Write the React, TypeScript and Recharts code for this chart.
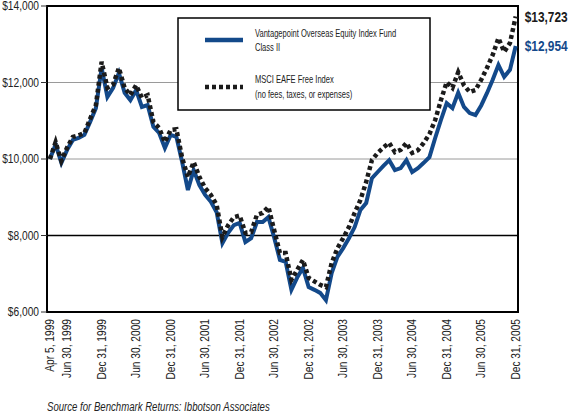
import React from "react";
import {
  LineChart,
  Line,
  XAxis,
  YAxis,
  CartesianGrid,
  ReferenceLine,
  ReferenceArea,
  Legend,
  LabelList,
} from "recharts";

// month index 0 = Apr 5, 1999 ... 81 = Dec 31, 2005
const fundName = "Vantagepoint Overseas Equity Index Fund Class II";
const indexName = "MSCI EAFE Free Index (no fees, taxes, or expenses)";

const fundValues = [
  10000, 10380, 9900, 10240, 10500, 10550, 10630, 10970, 11330, 12380,
  11620, 11860, 12250, 11730, 11540, 11800, 11360, 11410, 10840, 10680,
  10290, 10630, 10580, 9920, 9190, 9710, 9320, 9060, 8880, 8610,
  7800, 8070, 8270, 8330, 7830, 7930, 8350, 8350, 8480, 7950,
  7360, 7310, 6580, 6900, 7150, 6650, 6580, 6500, 6310, 7020,
  7440, 7670, 7930, 8220, 8670, 8850, 9500, 9660, 9820, 9970,
  9710, 9760, 9970, 9660, 9760, 9900, 10050, 10550, 11020, 11460,
  11330, 11730, 11360, 11200, 11150, 11400, 11720, 12070, 12460, 12150,
  12330, 12954,
];

const indexValues = [
  10000, 10440, 9950, 10300, 10580, 10620, 10680, 11050, 11410, 12540,
  11860, 11950, 12380, 11860, 11670, 11930, 11600, 11670, 10970, 10810,
  10440, 10760, 10780, 10030, 9530, 9920, 9530, 9240, 9060, 8800,
  7960, 8270, 8480, 8520, 8070, 8090, 8540, 8590, 8750, 8140,
  7540, 7540, 6840, 7100, 7360, 6890, 6800, 6710, 6650, 7280,
  7670, 7930, 8220, 8590, 8930, 9400, 9970, 10160, 10300, 10420,
  10180, 10240, 10420, 10160, 10230, 10420, 10650, 11020, 11540, 12010,
  11860, 12270, 11930, 11750, 11800, 12070, 12380, 12720, 13160, 12800,
  13030, 13723,
];

const tickMonths = [0, 3, 9, 15, 21, 27, 33, 39, 45, 51, 57, 63, 69, 75, 81];
const tickLabels = [
  "Apr 5, 1999",
  "Jun 30, 1999",
  "Dec 31, 1999",
  "Jun 30, 2000",
  "Dec 31, 2000",
  "Jun 30, 2001",
  "Dec 31, 2001",
  "Jun 30, 2002",
  "Dec 31, 2002",
  "Jun 30, 2003",
  "Dec 31, 2003",
  "Jun 30, 2004",
  "Dec 31, 2004",
  "Jun 30, 2005",
  "Dec 31, 2005",
];
const yTicks = [6000, 8000, 10000, 12000, 14000];

const data = fundValues.map((v, i) => ({
  m: i,
  fund: v,
  index: indexValues[i],
}));

// no condensed face installed, so Liberation Sans gets squeezed horizontally
const FONT = "'Liberation Sans', Arial, sans-serif";
const BLUE = "#13498a";
const DARK = "#1b1b1b";
const INK = "#222";

const money = (v: number) => "$" + v.toLocaleString("en-US");

function Narrow({ x, y, rotate = 0, sx = 0.85, children, ...rest }: any) {
  return (
    <g transform={`translate(${x},${y}) rotate(${rotate}) scale(${sx},1)`}>
      <text x={0} y={0} fontFamily={FONT} {...rest}>
        {children}
      </text>
    </g>
  );
}

function XTick({ x, y, payload }: any) {
  const label = tickLabels[tickMonths.indexOf(payload.value)];
  return (
    <Narrow x={x} y={y + 5} rotate={-90} textAnchor="end" dy="0.35em" fontSize={12} fill={INK}>
      {label}
    </Narrow>
  );
}

function YTick({ x, y, payload }: any) {
  return (
    <Narrow x={x} y={y} textAnchor="end" dy="0.35em" fontSize={12} fill={INK}>
      {money(payload.value)}
    </Narrow>
  );
}

function endLabel(color: string, last: number) {
  return (props: any) => {
    if (props.index !== last) return null;
    return (
      <Narrow
        x={props.x + 9}
        y={props.y}
        dy="0.35em"
        fontSize={14}
        fontWeight="bold"
        fill={color}
      >
        {money(props.value)}
      </Narrow>
    );
  };
}

function LegendBox() {
  const t = { fontSize: 10.5, fill: INK, sx: 0.72 };
  return (
    <svg width={254} height={94}>
      <rect x={1} y={1} width={252} height={92} fill="#fff" stroke="#000" strokeWidth={1.5} />
      <line x1={28} y1={23} x2={66} y2={23} stroke={BLUE} strokeWidth={4.5} />
      <Narrow x={78} y={20} {...t}>
        Vantagepoint Overseas Equity Index Fund
      </Narrow>
      <Narrow x={78} y={34} {...t}>
        Class II
      </Narrow>
      <line
        x1={28}
        y1={70}
        x2={66}
        y2={70}
        stroke={DARK}
        strokeWidth={4.5}
        strokeDasharray="4 3"
      />
      <Narrow x={78} y={66} {...t}>
        MSCI EAFE Free Index
      </Narrow>
      <Narrow x={78} y={81} {...t}>
        (no fees, taxes, or expenses)
      </Narrow>
    </svg>
  );
}

export default function App() {
  const last = data.length - 1;
  return (
    <div
      style={{
        position: "absolute",
        left: 0,
        top: 0,
        width: 570,
        height: 420,
        background: "#fff",
      }}
    >
      <LineChart
        width={570}
        height={420}
        data={data}
        margin={{ top: 6, right: 52, left: 0, bottom: 0 }}
      >
        <CartesianGrid vertical={false} stroke="#9a9a9a" strokeWidth={1} />
        <XAxis
          dataKey="m"
          type="number"
          domain={[-0.5, 81.4]}
          ticks={tickMonths}
          tick={<XTick />}
          tickLine={false}
          axisLine={false}
          tickSize={0}
          height={108}
          interval={0}
        />
        <YAxis
          domain={[6000, 14000]}
          ticks={yTicks}
          tick={<YTick />}
          tickLine={{ stroke: "#333" }}
          tickSize={6}
          tickMargin={2}
          axisLine={false}
          width={47}
          interval={0}
        />
        <ReferenceLine y={8000} stroke="#000" strokeWidth={1.5} />
        <Legend
          layout="horizontal"
          verticalAlign="middle"
          align="center"
          content={() => <LegendBox />}
          wrapperStyle={{ left: 177, top: 17, width: 254, height: 94 }}
        />
        <Line
          name={fundName}
          type="linear"
          dataKey="fund"
          stroke={BLUE}
          strokeWidth={4}
          dot={false}
          isAnimationActive={false}
        >
          <LabelList dataKey="fund" content={endLabel(BLUE, last)} />
        </Line>
        <Line
          name={indexName}
          type="linear"
          dataKey="index"
          stroke={DARK}
          strokeWidth={4.5}
          strokeDasharray="4 3"
          dot={false}
          isAnimationActive={false}
        >
          <LabelList dataKey="index" content={endLabel(DARK, last)} />
        </Line>
        <ReferenceArea
          x1={-0.5}
          x2={81.4}
          y1={6000}
          y2={14000}
          fill="none"
          stroke="#000"
          strokeWidth={2}
          ifOverflow="visible"
        />
      </LineChart>
      <div
        style={{
          position: "absolute",
          left: 47,
          top: 400,
          fontFamily: FONT,
          fontStyle: "italic",
          fontSize: 12,
          color: INK,
          whiteSpace: "nowrap",
          transform: "scaleX(0.8)",
          transformOrigin: "left top",
        }}
      >
        Source for Benchmark Returns: Ibbotson Associates
      </div>
    </div>
  );
}
